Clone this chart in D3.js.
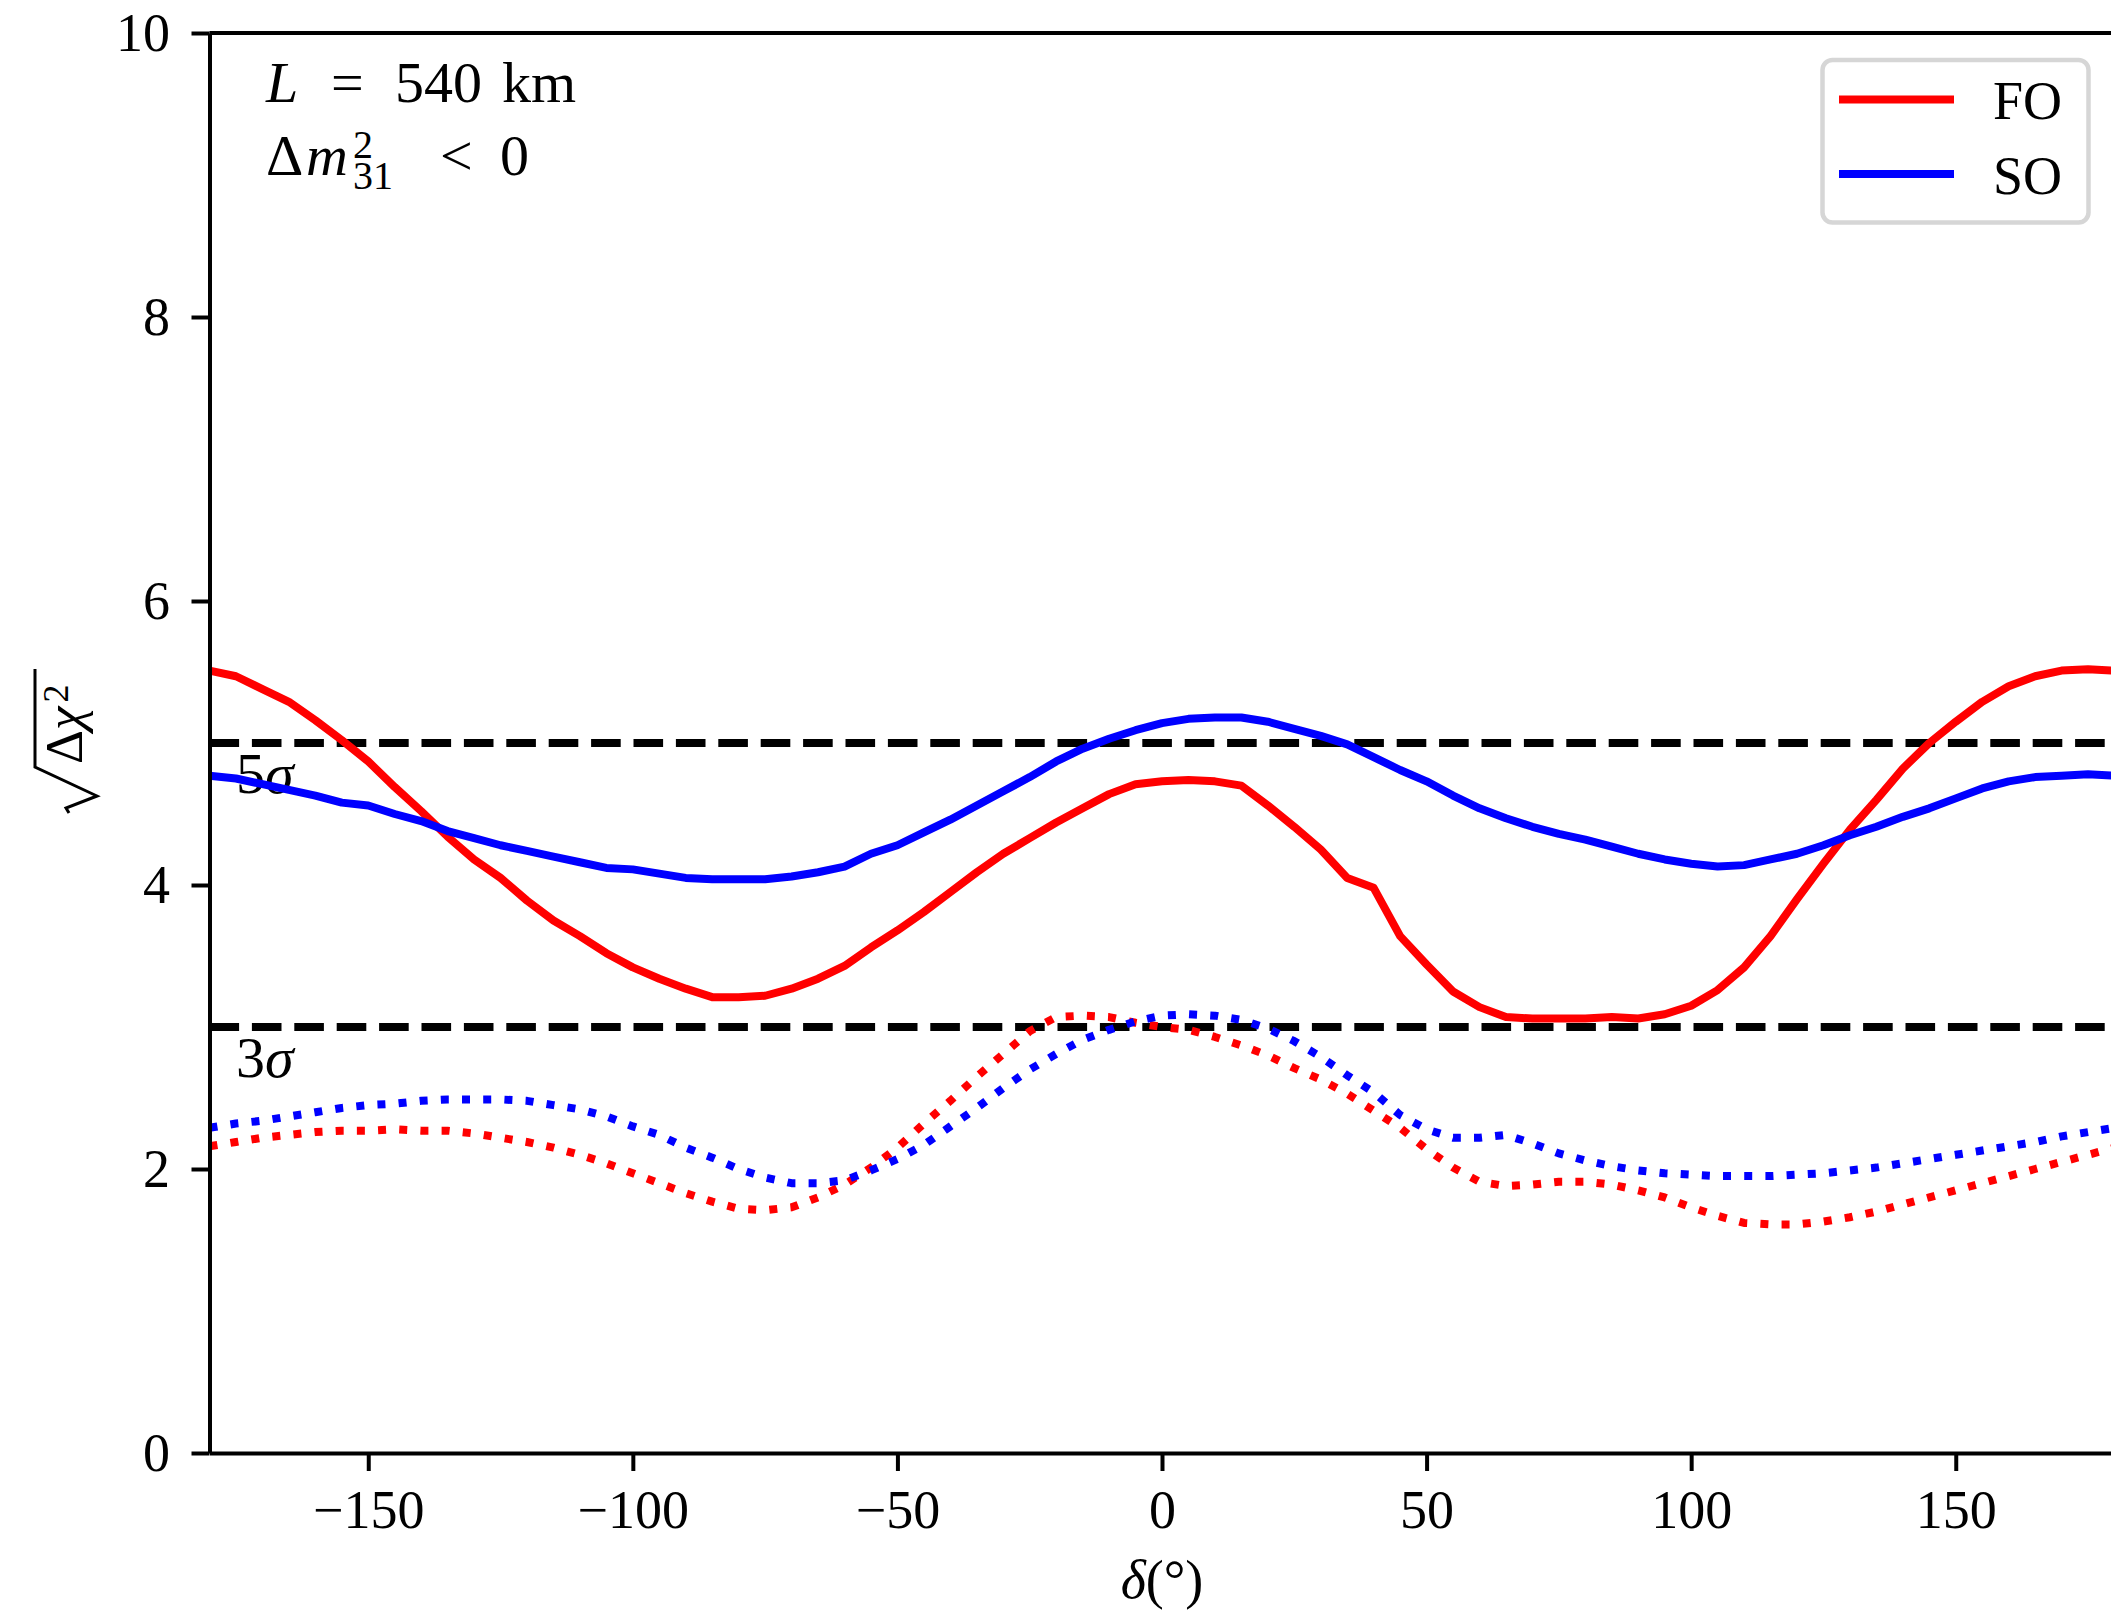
<!DOCTYPE html>
<html>
<head>
<meta charset="utf-8">
<script src="https://cdn.jsdelivr.net/npm/d3@7"></script>
<style>
  body { margin: 0; background: #fff; }
  svg { display: block; }
  text { font-family: "Liberation Serif", "DejaVu Serif", serif; fill: #000; }
</style>
</head>
<body>
<svg id="chart" width="2111" height="1618"></svg>
<script>
// delta (deg) grid of the scan
var delta = [-180, -175, -170, -165, -160, -155, -150, -145, -140, -135, -130, -125, -120,
  -115, -110, -105, -100, -95, -90, -85, -80, -75, -70, -65, -60, -55, -50, -45, -40, -35,
  -30, -25, -20, -15, -10, -5, 0, 5, 10, 15, 20, 25, 30, 35, 40, 45, 50, 55, 60, 65, 70,
  75, 80, 85, 90, 95, 100, 105, 110, 115, 120, 125, 130, 135, 140, 145, 150, 155, 160, 165,
  170, 175, 180];

// sqrt(dchi2), solid curves
var fo_solid = [5.51, 5.47, 5.38, 5.29, 5.16, 5.02, 4.87, 4.69, 4.52, 4.34, 4.18, 4.05, 3.89,
  3.75, 3.64, 3.52, 3.42, 3.34, 3.27, 3.21, 3.21, 3.22, 3.27, 3.34, 3.43, 3.56, 3.68, 3.81, 3.95,
  4.09, 4.22, 4.33, 4.44, 4.54, 4.64, 4.71, 4.73, 4.74, 4.73, 4.70, 4.56, 4.41, 4.25, 4.05, 3.98,
  3.64, 3.44, 3.25, 3.14, 3.07, 3.06, 3.06, 3.06, 3.07, 3.06, 3.09, 3.15, 3.26, 3.42, 3.64, 3.90,
  4.15, 4.39, 4.60, 4.82, 5.00, 5.15, 5.29, 5.40, 5.47, 5.51, 5.52, 5.51];
var so_solid = [4.77, 4.75, 4.71, 4.67, 4.63, 4.58, 4.56, 4.50, 4.45, 4.38, 4.33, 4.28, 4.24,
  4.20, 4.16, 4.12, 4.11, 4.08, 4.05, 4.04, 4.04, 4.04, 4.06, 4.09, 4.13, 4.22, 4.28, 4.37, 4.46,
  4.56, 4.66, 4.76, 4.87, 4.96, 5.03, 5.09, 5.14, 5.17, 5.18, 5.18, 5.15, 5.10, 5.05, 4.99, 4.90,
  4.81, 4.73, 4.63, 4.54, 4.47, 4.41, 4.36, 4.32, 4.27, 4.22, 4.18, 4.15, 4.13, 4.14, 4.18, 4.22,
  4.28, 4.35, 4.41, 4.48, 4.54, 4.61, 4.68, 4.73, 4.76, 4.77, 4.78, 4.77];

// dotted curves
var fo_dotted = [2.16, 2.19, 2.22, 2.24, 2.26, 2.27, 2.27, 2.28, 2.27, 2.27, 2.25, 2.22, 2.19,
  2.15, 2.10, 2.04, 1.97, 1.90, 1.83, 1.77, 1.72, 1.71, 1.73, 1.80, 1.89, 2.01, 2.15, 2.32, 2.48,
  2.65, 2.81, 2.97, 3.07, 3.08, 3.07, 3.03, 3.00, 2.98, 2.93, 2.87, 2.80, 2.71, 2.63, 2.53, 2.41,
  2.29, 2.14, 2.01, 1.91, 1.88, 1.89, 1.91, 1.91, 1.89, 1.85, 1.80, 1.73, 1.67, 1.62, 1.61, 1.61,
  1.63, 1.66, 1.70, 1.75, 1.80, 1.85, 1.90, 1.95, 2.00, 2.05, 2.10, 2.15];
var so_dotted = [2.29, 2.32, 2.34, 2.37, 2.40, 2.43, 2.45, 2.46, 2.48, 2.49, 2.49, 2.49, 2.48,
  2.45, 2.42, 2.37, 2.30, 2.24, 2.15, 2.08, 2.00, 1.94, 1.90, 1.90, 1.92, 1.99, 2.07, 2.17, 2.30,
  2.43, 2.57, 2.70, 2.81, 2.91, 2.98, 3.04, 3.08, 3.09, 3.08, 3.05, 2.99, 2.90, 2.79, 2.66, 2.54,
  2.38, 2.28, 2.22, 2.22, 2.24, 2.18, 2.11, 2.06, 2.02, 1.99, 1.97, 1.96, 1.95, 1.95, 1.95, 1.96,
  1.97, 1.99, 2.01, 2.04, 2.07, 2.10, 2.13, 2.16, 2.19, 2.23, 2.26, 2.29];

var x_ticks = [-150, -100, -50, 0, 50, 100, 150];
var y_ticks = [0, 2, 4, 6, 8, 10];
var sigma_levels = [5, 3];
var legend_labels = ['FO', 'SO'];
var legend_colors = ['#ff0000', '#0000ff'];

var margin = {top: 33, right: -3.5, bottom: 165, left: 209.5},
    width = 2111 - margin.left - margin.right,
    height = 1618 - margin.top - margin.bottom,
    lw = 8,
    tick_font = 54;

var svg = d3.select('#chart');
var g = svg.append('g')
  .attr('transform', 'translate(' + margin.left + ',' + margin.top + ')');

var x = d3.scaleLinear().domain([-180, 180]).range([0, width]);
var y = d3.scaleLinear().domain([0, 10]).range([height, 0]);

// sigma reference lines
sigma_levels.forEach(function(s) {
  g.append('line')
    .attr('x1', x(-180)).attr('x2', x(180))
    .attr('y1', y(s)).attr('y2', y(s))
    .attr('stroke', '#000')
    .attr('stroke-width', lw)
    .attr('stroke-dasharray', (3.7*lw) + ',' + (1.6*lw));

  var lab = g.append('text')
    .attr('x', x(-175))
    .attr('y', y(s - 0.35))
    .attr('font-size', 58);
  lab.append('tspan').text(s);
  lab.append('tspan').attr('font-style', 'italic').text('σ');
});

var line = d3.line()
  .x(function(d) { return x(d[0]); })
  .y(function(d) { return y(d[1]); });

function zip(vals) {
  return delta.map(function(d, i) { return [d, vals[i]]; });
}

var series = [
  {vals: fo_solid, color: legend_colors[0], dotted: false},
  {vals: so_solid, color: legend_colors[1], dotted: false},
  {vals: fo_dotted, color: legend_colors[0], dotted: true},
  {vals: so_dotted, color: legend_colors[1], dotted: true}
];

series.forEach(function(s) {
  g.append('path')
    .datum(zip(s.vals))
    .attr('d', line)
    .attr('fill', 'none')
    .attr('stroke', s.color)
    .attr('stroke-width', lw)
    .attr('stroke-linejoin', 'round')
    .attr('stroke-dasharray', s.dotted ? (lw + ',' + 1.65*lw) : null);
});

// axes
var x_axis = g.append('g')
  .attr('transform', 'translate(0,' + height + ')')
  .call(d3.axisBottom(x).tickValues(x_ticks).tickSize(18).tickSizeOuter(0).tickPadding(19));
var y_axis = g.append('g')
  .call(d3.axisLeft(y).tickValues(y_ticks).tickSize(18).tickSizeOuter(0).tickPadding(21.5));

[x_axis, y_axis].forEach(function(a) {
  a.attr('font-family', null).attr('font-size', null);
  a.select('.domain').attr('stroke-width', 4);
  a.selectAll('.tick line').attr('stroke-width', 4);
  a.selectAll('.tick text').attr('font-size', tick_font);
});
y_axis.selectAll('.tick text').attr('dy', '0.33em');

// top and right spines
g.append('line')
  .attr('x1', 0).attr('x2', width).attr('y1', 0).attr('y2', 0)
  .attr('stroke', '#000').attr('stroke-width', 4);
g.append('line')
  .attr('x1', width).attr('x2', width).attr('y1', 0).attr('y2', height)
  .attr('stroke', '#000').attr('stroke-width', 4);

// x label: delta(deg)
var xl = svg.append('text')
  .attr('x', margin.left + x(0))
  .attr('y', 1598)
  .attr('text-anchor', 'middle')
  .attr('font-size', 54);
xl.append('tspan').attr('font-style', 'italic').text('δ');
xl.append('tspan').text('(°)');

// y label: sqrt(Delta chi^2), drawn rotated
var yl = svg.append('g').attr('transform', 'translate(82,743) rotate(-90)');
yl.append('path')
  .attr('d', 'M-70,-13 L-65,-16 L-53,15 L-24,-47 L74,-47')
  .attr('fill', 'none')
  .attr('stroke', '#000')
  .attr('stroke-width', 3)
  .attr('stroke-linejoin', 'miter');
var yt = yl.append('text').attr('x', -21).attr('y', 0).attr('font-size', 53);
yt.append('tspan').text('Δ');
yt.append('tspan').attr('font-style', 'italic').text('χ');
yt.append('tspan').attr('dx', 4).attr('dy', -14).attr('font-size', 36).text('2');

// annotation, both lines in one text block
var ann = svg.append('text').attr('font-size', 58);
ann.append('tspan').attr('x', 266).attr('y', 102).attr('font-style', 'italic').text('L');
ann.append('tspan').attr('x', 331).attr('y', 102).text('=');
ann.append('tspan').attr('x', 395).attr('y', 102).text('540');
ann.append('tspan').attr('x', 502).attr('y', 102).text('km');
ann.append('tspan').attr('x', 266).attr('y', 175).text('Δ');
ann.append('tspan').attr('x', 306).attr('y', 175).attr('font-style', 'italic').text('m');
ann.append('tspan').attr('x', 353).attr('y', 158).attr('font-size', 40).text('2');
ann.append('tspan').attr('x', 353).attr('y', 189).attr('font-size', 40).text('31');
ann.append('tspan').attr('x', 440).attr('y', 175).text('<');
ann.append('tspan').attr('x', 500).attr('y', 175).text('0');

// legend
var legend = svg.append('g');
legend.append('rect')
  .attr('x', 1822.5).attr('y', 60)
  .attr('width', 266).attr('height', 162.5)
  .attr('rx', 10).attr('ry', 10)
  .attr('fill', '#fff').attr('fill-opacity', 0.8)
  .attr('stroke', '#d6d6d6').attr('stroke-width', 4.5);

legend_labels.forEach(function(lbl, i) {
  var ly = 99.5 + i*74.5;
  legend.append('line')
    .attr('x1', 1839).attr('x2', 1954)
    .attr('y1', ly).attr('y2', ly)
    .attr('stroke', legend_colors[i])
    .attr('stroke-width', lw);
  legend.append('text')
    .attr('x', 1993)
    .attr('y', ly + 19.5)
    .attr('font-size', 54)
    .text(lbl);
});
</script>
</body>
</html>
